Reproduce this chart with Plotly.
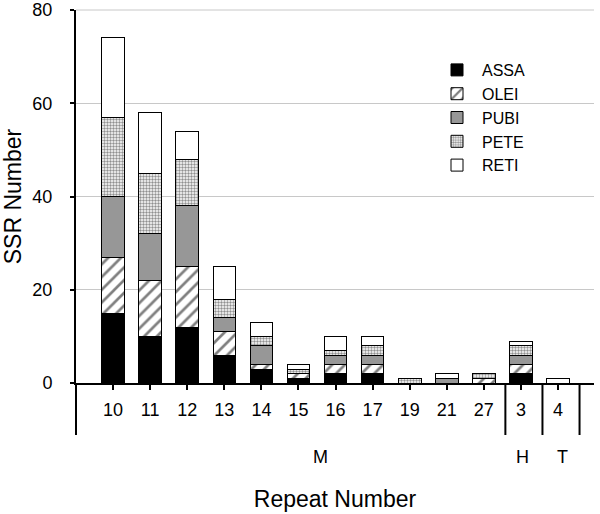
import plotly.graph_objects as go

categories = ["10", "11", "12", "13", "14", "15", "16", "17", "19", "21", "27", "3", "4"]
assa = [15, 10, 12, 6, 3, 1, 2, 2, 0, 0, 0, 2, 0]
olei = [12, 12, 13, 5, 1, 1, 2, 2, 0, 0, 1, 2, 0]
pubi = [13, 10, 13, 3, 4, 0, 2, 2, 0, 1, 0, 2, 0]
pete = [17, 13, 10, 4, 2, 1, 1, 2, 1, 0, 1, 2, 0]
reti = [17, 13, 6, 7, 3, 1, 3, 2, 0, 1, 0, 1, 1]
groups = ["M", "H", "T"]

FONT = "Liberation Sans, Arial, sans-serif"
W, H = 600, 514
PL, PR, PT, PB = 76, 594, 10, 383
L, R, T, B = PL, W - PR, PT, H - PB
XR = [-1.0, 12.97]
plot_w = PR - PL
plot_h = PB - PT
GRID = "#c8c8c8"

series = [
    ("ASSA", assa, dict(color="black")),
    ("OLEI", olei, dict(color="white", pattern=dict(shape="/", fgcolor="black", bgcolor="white", size=9, solidity=0.3))),
    ("PUBI", pubi, dict(color="#979797")),
    ("PETE", pete, dict(color="white", pattern=dict(shape=".", fgcolor="#222222", bgcolor="white", size=3, solidity=0.5))),
    ("RETI", reti, dict(color="white")),
]

fig = go.Figure()
for name, vals, mk in series:
    mk = dict(mk)
    mk["line"] = dict(color="black", width=1)
    fig.add_trace(go.Bar(x=categories, y=vals, name=name, marker=mk, width=0.61))

def xpaper(px):
    return (px - PL) / plot_w

def ypaper(py):
    return (PB - py) / plot_h

def cat_to_px(v):
    return PL + (v - XR[0]) / (XR[1] - XR[0]) * plot_w

shapes = []
# top gridline (plotly omits the gridline at the very end of the range)
shapes.append(dict(type="line", xref="paper", yref="paper", x0=0, x1=1, y0=1, y1=1,
                   line=dict(color=GRID, width=1), layer="below"))
y_bot = ypaper(435)
shapes.append(dict(type="line", xref="paper", yref="paper", x0=0, x1=0, y0=0, y1=y_bot,
                   line=dict(color="black", width=2)))
for idx in [10, 11, 12]:
    px = cat_to_px(idx + 0.58)
    shapes.append(dict(type="line", xref="paper", yref="paper", x0=xpaper(px), x1=xpaper(px),
                       y0=0, y1=y_bot, line=dict(color="black", width=2)))

annotations = []
for g, px in zip(groups, [320, 522.5, 562.5]):
    annotations.append(dict(text=g, xref="paper", yref="paper", x=xpaper(px), y=ypaper(456.5),
                            showarrow=False, xanchor="center", yanchor="middle",
                            font=dict(family=FONT, size=18, color="black")))

fig.update_layout(
    width=W, height=H,
    margin=dict(l=L, r=R, t=T, b=B, pad=0),
    barmode="stack",
    plot_bgcolor="white", paper_bgcolor="white",
    font=dict(family=FONT, color="black"),
    showlegend=True,
    legend=dict(x=xpaper(432), y=ypaper(53), xanchor="left", yanchor="top",
                traceorder="normal", bgcolor="rgba(0,0,0,0)",
                font=dict(family=FONT, size=16, color="black"),
                itemwidth=40, tracegroupgap=0),
    shapes=shapes,
    annotations=annotations,
    xaxis=dict(
        range=XR, type="category", automargin=False,
        showline=True, linecolor="black", linewidth=2,
        ticks="outside", ticklen=5, tickwidth=1.5, tickcolor="black",
        tickfont=dict(family=FONT, size=18, color="black"),
        ticklabelstandoff=4, ticklabeloverflow="allow",
        showgrid=False, zeroline=False,
        title=dict(text="Repeat Number", font=dict(family=FONT, size=23, color="black"), standoff=72),
    ),
    yaxis=dict(
        range=[0, 80], tickvals=[0, 20, 40, 60, 80], automargin=False,
        showline=True, linecolor="black", linewidth=2,
        ticks="outside", ticklen=4, tickwidth=1.5, tickcolor="black",
        tickfont=dict(family=FONT, size=18, color="black"),
        ticklabelstandoff=14, ticklabeloverflow="allow",
        showgrid=True, gridcolor=GRID, gridwidth=1,
        zeroline=False,
        title=dict(text="SSR Number", font=dict(family=FONT, size=23, color="black"), standoff=28),
    ),
)

fig.write_html("out.html", config={"displayModeBar": False},
               post_script="document.body.style.margin='0';")
